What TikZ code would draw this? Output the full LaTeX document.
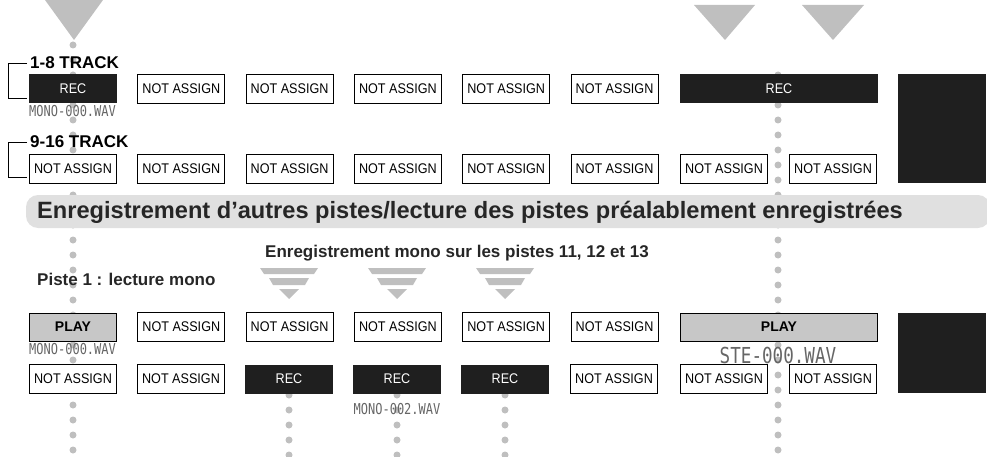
\documentclass[tikz,border=0pt]{standalone}
\usepackage{fontspec}
\setmainfont{Liberation Sans}
\newfontfamily\lcd{DejaVu Sans Mono}
\begin{document}
\begin{tikzpicture}[x=1pt,y=-1pt,
  na/.style={draw=black,line width=0.7pt,fill=white,minimum width=87pt,minimum height=29pt,inner sep=0pt,font=\fontsize{14}{14}\selectfont\addfontfeature{FakeStretch=0.9}},
  rec/.style={fill=black!88,text=white,minimum width=88pt,minimum height=29pt,inner sep=0pt,font=\fontsize{14}{14}\selectfont\addfontfeature{FakeStretch=0.9}},
  play/.style={draw=black,line width=0.7pt,fill=black!22,minimum width=87pt,minimum height=28pt,inner sep=0pt,font=\bfseries\fontsize{14}{14}\selectfont},
  lbl/.style={font=\bfseries\fontsize{17}{17}\selectfont,inner sep=0pt,anchor=west},
  fname/.style={font=\lcd\fontsize{15}{15}\selectfont\addfontfeature{FakeStretch=0.8},text=black!60,inner sep=0pt},
  dot/.style={circle,fill=black!25,minimum size=7pt,inner sep=0pt},
  tri/.style={fill=black!25},
  brk/.style={draw=black,line width=0.6pt}]
\useasboundingbox (0,0) rectangle (987,457);
\foreach \y in {45,60,...,457} \node[dot] at (73,\y) {};
\foreach \y in {75,90,...,457} \node[dot] at (778,\y) {};
\foreach \cx in {289,397,505} \foreach \y in {395,410,...,457} \node[dot] at (\cx,\y) {};
\fill[tri] (45,0) -- (103,0) -- (74,40) -- cycle;
\fill[tri] (694,5) -- (755,5) -- (725,40) -- cycle;
\fill[tri] (802,5) -- (864,5) -- (833,40) -- cycle;
\node[lbl] (l1) at (30,63) {1-8 TRACK};
\node[lbl] (l2) at (30,142) {9-16 TRACK};
\draw[brk] (27,63) -- (8,63) -- (8,98) -- (27,98);
\draw[brk] (27,142) -- (8,142) -- (8,177) -- (27,177);
\node[rec] (r1c1) at (73,89) {REC};
\foreach \i in {2,...,6} \node[na] (r1c\i) at ({73+108.3*(\i-1)},89) {NOT ASSIGN};
\node[rec,minimum width=198pt] (r1c7) at (779,89) {REC};
\node[fname,anchor=north west] (f1) at (29,105) {MONO-000.WAV};
\foreach \i in {1,...,6} \node[na] (r2c\i) at ({73+108.3*(\i-1)},169) {NOT ASSIGN};
\node[na] (r2c7) at (724,169) {NOT ASSIGN};
\node[na] (r2c8) at (833,169) {NOT ASSIGN};
\fill[black!88] (898,74) rectangle (986,183);
\fill[black!12,rounded corners=12pt] (26,195) rectangle (990,228);
\node[font=\bfseries\fontsize{23.6}{23.6}\selectfont,anchor=west,inner sep=0pt,text=black!85] (ban) at (37,212) {Enregistrement d’autres pistes/lecture des pistes préalablement enregistrées};
\node[font=\bfseries\fontsize{17}{17}\selectfont,inner sep=0pt,text=black!85] (t2) at (457,253) {Enregistrement mono sur les pistes 11, 12 et 13};
\node[font=\bfseries\fontsize{17}{17}\selectfont,inner sep=0pt,anchor=west,text=black!85] (t3) at (37,279) {Piste 1 : lecture mono};
\foreach \cx in {289,397,505} {
  \fill[tri] (\cx-29,268) -- (\cx+29,268) -- (\cx+25,274) -- (\cx-25,274) -- cycle;
  \fill[tri] (\cx-20,278) -- (\cx+20,278) -- (\cx+16,285) -- (\cx-16,285) -- cycle;
  \fill[tri] (\cx-10,289) -- (\cx+10,289) -- (\cx,299) -- cycle;
}
\node[play] (r3c1) at (73,327) {PLAY};
\foreach \i in {2,...,6} \node[na] (r3c\i) at ({73+108.3*(\i-1)},327) {NOT ASSIGN};
\node[play,minimum width=197pt] (r3c7) at (779,327) {PLAY};
\node[fname,anchor=north west] (f2) at (29,343) {MONO-000.WAV};
\node[fname,font=\lcd\fontsize{22}{22}\selectfont\addfontfeature{FakeStretch=0.8}] (f3) at (778,355) {STE-000.WAV};
\node[na] (r4c1) at (73,379) {NOT ASSIGN};
\node[na] (r4c2) at (181,379) {NOT ASSIGN};
\node[rec] (r4c3) at (289,379) {REC};
\node[rec] (r4c4) at (397,379) {REC};
\node[rec] (r4c5) at (505,379) {REC};
\node[na] (r4c6) at (614,379) {NOT ASSIGN};
\node[na] (r4c7) at (724,379) {NOT ASSIGN};
\node[na] (r4c8) at (833,379) {NOT ASSIGN};
\node[fname] (f4) at (397,409) {MONO-002.WAV};
\fill[black!88] (898,313) rectangle (986,393);
\end{tikzpicture}
\end{document}
